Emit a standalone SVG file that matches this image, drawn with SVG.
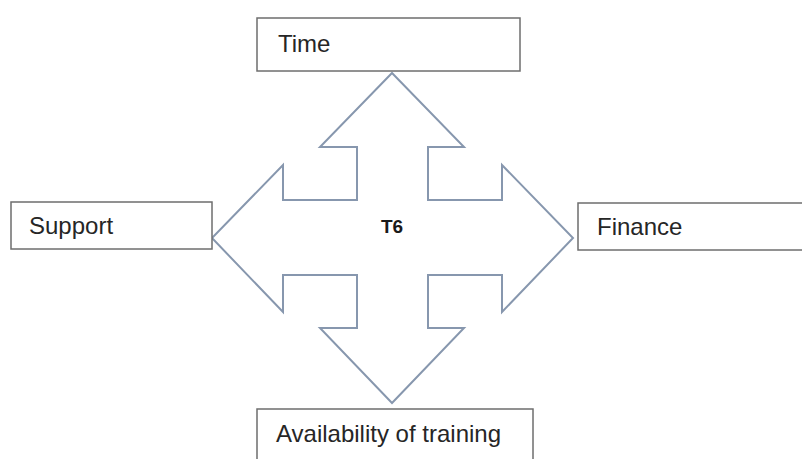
<svg xmlns="http://www.w3.org/2000/svg" width="802" height="459" viewBox="0 0 802 459">
  <style>
    .box { fill: #ffffff; stroke: #6e6e6e; stroke-width: 1.5; }
    .label { font-family: "Liberation Sans", Arial, sans-serif; font-size: 24px; fill: #262626; }
    .center { font-family: "Liberation Sans", Arial, sans-serif; font-size: 19px; font-weight: bold; fill: #1a1a1a; text-anchor: middle; }
    .arrow { fill: #ffffff; stroke: #8797ae; stroke-width: 2; stroke-linejoin: miter; }
  </style>
  <rect width="802" height="459" fill="#ffffff"/>

  <!-- four-way arrow hub -->
  <g id="connectors">
    <polygon class="arrow" points="392,73 464,147 428,147 428,200 502,200 502,165 573,238 502,312 502,275 428,275 428,328 464,328 392,403 320,328 357,328 357,275 283,275 283,312 212,238 283,165 283,200 357,200 357,147 320,147"/>
  </g>

  <g id="hub">
    <text class="center" x="392" y="233">T6</text>
  </g>

  <g id="time">
    <rect class="box" x="257" y="18" width="263" height="53"/>
    <text class="label" x="278" y="52">Time</text>
  </g>

  <g id="support">
    <rect class="box" x="11" y="202" width="201" height="47"/>
    <text class="label" x="29" y="234">Support</text>
  </g>

  <g id="finance">
    <rect class="box" x="578" y="203" width="240" height="47"/>
    <text class="label" x="597" y="235">Finance</text>
  </g>

  <g id="training">
    <rect class="box" x="257" y="409" width="276" height="70"/>
    <text class="label" x="276" y="442">Availability of training</text>
  </g>
</svg>
